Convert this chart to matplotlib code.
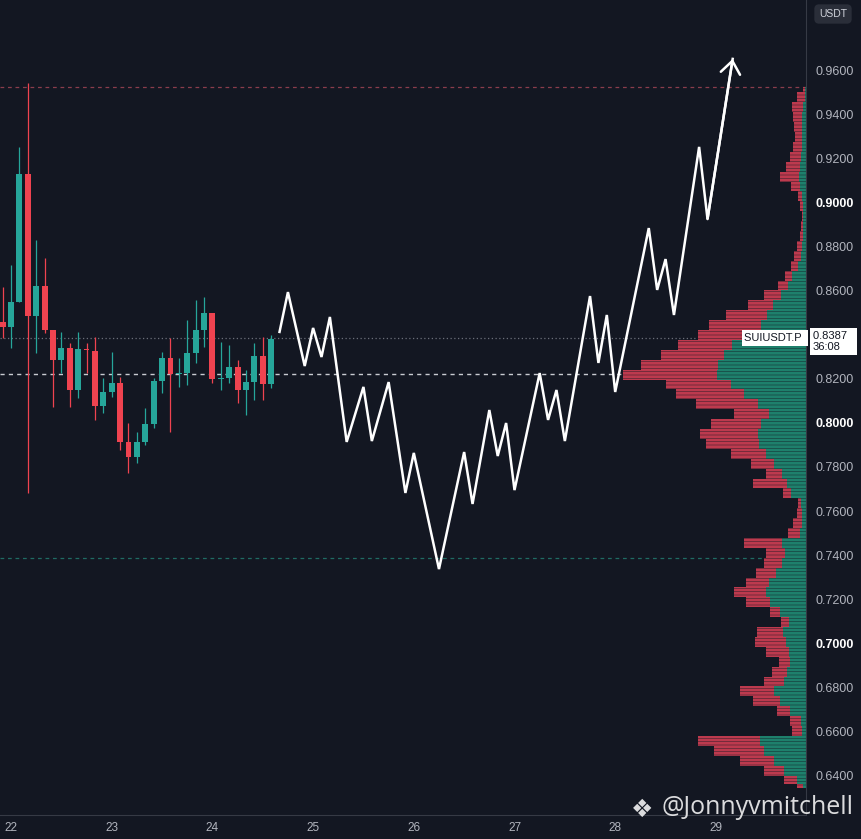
import matplotlib
matplotlib.use("Agg")
import matplotlib.pyplot as plt
import matplotlib.transforms as mtransforms
import numpy as np

BG = '#131722'
UP = '#26a69a'
DOWN = '#ef4350'
VP_RED = '#bd3a4e'
VP_GREEN = '#1e806c'

# 2h candles, first one at day 22 minus 2 hours
candle_start = 22 - 2 / 24
candle_step = 2 / 24
c_open = [0.8461, 0.8435, 0.8552, 0.9130, 0.8486, 0.8624, 0.8423, 0.8286, 0.8339,
          0.8150, 0.8335, 0.8329, 0.8077, 0.8142, 0.8183, 0.7915, 0.7847, 0.7915,
          0.7995, 0.8192, 0.8297, 0.8221, 0.8229, 0.8320, 0.8423, 0.8499, 0.8198,
          0.8203, 0.8253, 0.8150, 0.8188, 0.8305, 0.8176]
c_close = [0.8435, 0.8552, 0.9130, 0.8486, 0.8624, 0.8423, 0.8286, 0.8339, 0.8150,
           0.8335, 0.8332, 0.8077, 0.8142, 0.8183, 0.7915, 0.7847, 0.7915, 0.7995,
           0.8192, 0.8297, 0.8221, 0.8226, 0.8320, 0.8423, 0.8499, 0.8198, 0.8203,
           0.8253, 0.8150, 0.8188, 0.8305, 0.8176, 0.8382]
c_high = [0.8620, 0.8718, 0.9256, 0.9545, 0.8832, 0.8748, 0.8423, 0.8415, 0.8362,
          0.8415, 0.8362, 0.8392, 0.8203, 0.8324, 0.8211, 0.7998, 0.7961, 0.8067,
          0.8203, 0.8324, 0.8385, 0.8294, 0.8468, 0.8560, 0.8574, 0.8499, 0.8370,
          0.8355, 0.8286, 0.8241, 0.8362, 0.8392, 0.8400]
c_low = [0.8385, 0.8339, 0.8552, 0.7682, 0.8317, 0.8407, 0.8074, 0.8226, 0.8074,
         0.8112, 0.8226, 0.8014, 0.8044, 0.8120, 0.7877, 0.7771, 0.7817, 0.7900,
         0.7976, 0.8135, 0.7961, 0.8165, 0.8173, 0.8271, 0.8347, 0.8180, 0.8150,
         0.8180, 0.8089, 0.8036, 0.8104, 0.8104, 0.8157]

# projected path (hours after day 22 00:00, price)
path_hours = [64, 66, 70, 72, 74, 76, 80, 84, 86, 90, 94, 96, 102, 108, 110, 114, 116,
              118, 120, 126, 128, 130, 132, 138, 140, 142, 144, 152, 154, 156, 158,
              164, 166, 172]
path_price = [0.8414, 0.8595, 0.8259, 0.8432, 0.8300, 0.8482, 0.7914, 0.8164, 0.7918,
              0.8186, 0.7682, 0.7864, 0.7336, 0.7868, 0.7632, 0.8059, 0.7850, 0.8000,
              0.7695, 0.8227, 0.8014, 0.8150, 0.7918, 0.8577, 0.8273, 0.8491, 0.8141,
              0.8886, 0.8605, 0.8745, 0.8491, 0.9255, 0.8927, 0.9655]

# volume profile
vp_price = [0.9525, 0.9480, 0.9435, 0.9390, 0.9345, 0.9300, 0.9255, 0.9210, 0.9165,
            0.9120, 0.9075, 0.9030, 0.8985, 0.8940, 0.8895, 0.8850, 0.8805, 0.8760,
            0.8715, 0.8670, 0.8625, 0.8580, 0.8535, 0.8490, 0.8445, 0.8400, 0.8355,
            0.8310, 0.8265, 0.8220, 0.8175, 0.8130, 0.8085, 0.8040, 0.7995, 0.7950,
            0.7905, 0.7860, 0.7815, 0.7770, 0.7725, 0.7680, 0.7635, 0.7590, 0.7545,
            0.7500, 0.7455, 0.7410, 0.7365, 0.7320, 0.7275, 0.7230, 0.7185, 0.7140,
            0.7095, 0.7050, 0.7005, 0.6960, 0.6915, 0.6870, 0.6825, 0.6780, 0.6735,
            0.6690, 0.6645, 0.6600, 0.6555, 0.6510, 0.6465, 0.6420, 0.6375, 0.6340]
vp_total = [3, 9, 14, 13, 12, 11, 13, 16, 20, 26, 15, 8, 6, 4, 5, 6, 9, 12, 15, 21,
            28, 42, 58, 80, 97, 108, 128, 145, 165, 183, 140, 130, 110, 72, 95, 106,
            100, 75, 55, 40, 53, 23, 8, 9, 13, 18, 62, 40, 42, 50, 60, 72, 60, 36, 25,
            49, 51, 40, 27, 34, 42, 66, 53, 29, 16, 14, 108, 92, 66, 42, 22, 9]
vp_green = [1, 1, 3, 4, 4, 4, 4, 5, 6, 7, 6, 4, 3, 3, 3, 3, 4, 5, 8, 14, 18, 25, 33,
            39, 45, 58, 74, 82, 88, 89, 75, 62, 48, 37, 45, 48, 47, 40, 32, 24, 19, 15,
            5, 4, 4, 6, 24, 21, 24, 30, 37, 40, 36, 26, 17, 23, 20, 17, 16, 19, 22, 32,
            26, 16, 5, 4, 46, 42, 32, 22, 9, 3]

# 0.8400 sits under the last-price label, so it is not shown
y_ticks = [0.64, 0.66, 0.68, 0.70, 0.72, 0.74, 0.76, 0.78, 0.80, 0.82, 0.86,
           0.88, 0.90, 0.92, 0.94, 0.96]
x_days = [22, 23, 24, 25, 26, 27, 28, 29]

last_price = 0.8387
poc_price = 0.8223
top_level = 0.9527
low_level = 0.7386

plt.rcParams['font.family'] = ['Liberation Sans', 'DejaVu Sans']
plt.rcParams['hatch.linewidth'] = 0.3

fig = plt.figure(figsize=(8.62, 8.39), dpi=100, facecolor=BG)
ax = fig.add_axes([0, 24 / 839, 806 / 862, 815 / 839])
ax2 = ax.twiny()
ax.set_zorder(ax2.get_zorder() + 1)
ax.patch.set_visible(False)
ax2.set_facecolor(BG)

ax.set_xlim(21.8908, 29.8947)
ax.set_ylim(0.62182, 0.99227)
ax2.set_xlim(806, 0)

# horizontal levels (under the profile)
ax2.axhline(top_level, color='#8a3d4c', lw=0.9, ls=(0, (3, 3)), zorder=1)
ax2.axhline(last_price, color='#6b6f7a', lw=0.9, ls=(0, (1, 2)), zorder=1)
ax2.axhline(poc_price, color='#c9cbd1', lw=1.0, ls=(0, (3, 3)), zorder=1)
ax2.axhline(low_level, color='#1f6b63', lw=0.9, ls=(0, (3, 3)), zorder=1)

# volume profile
ax2.fill_betweenx(vp_price, vp_total, 0, step='mid', facecolor=VP_RED,
                  edgecolor=BG, lw=0, hatch='-----', zorder=2)
ax2.fill_betweenx(vp_price, vp_green, 0, step='mid', facecolor=VP_GREEN,
                  edgecolor=BG, lw=0, hatch='-----', zorder=3)
ax2.set_axis_off()

# candles
body_w = 0.7 * candle_step
for i in range(len(c_open)):
    t = candle_start + i * candle_step
    o, c, h, l = c_open[i], c_close[i], c_high[i], c_low[i]
    col = UP if c >= o else DOWN
    ax.vlines(t, l, h, color=col, lw=0.9, zorder=3)
    ax.bar(t, max(abs(c - o), 0.0004), bottom=min(o, c), width=body_w, color=col,
           zorder=4)

# projected path with arrow
path_t = [22 + h / 24 for h in path_hours]
ax.plot(path_t, path_price, color='white', lw=1.8, solid_joinstyle='miter', zorder=5)
ax.annotate('', xy=(path_t[-1], path_price[-1]), xytext=(path_t[-2], path_price[-2]),
            arrowprops=dict(arrowstyle='->,head_length=0.45,head_width=0.35',
                            color='white', lw=1.8, shrinkA=0, shrinkB=0,
                            mutation_scale=20), zorder=6)

# axes styling
for s in ['top', 'left']:
    ax.spines[s].set_visible(False)
ax.spines['right'].set_color('#363a45')
ax.spines['bottom'].set_color('#363a45')
ax.yaxis.tick_right()
ax.set_yticks(y_ticks)
ax.set_yticklabels(['%.4f' % v for v in y_ticks])
ax.tick_params(axis='y', length=0, pad=7, labelsize=9, colors='#b2b5be')
for lab, v in zip(ax.get_yticklabels(), y_ticks):
    if abs(v * 10 - round(v * 10)) < 1e-6:
        lab.set_color('white')
        lab.set_fontweight('bold')
ax.set_xticks(x_days)
ax.set_xticklabels([str(d) for d in x_days])
ax.tick_params(axis='x', length=0, pad=5, labelsize=8.5, colors='#b2b5be')

# price labels
trans = mtransforms.blended_transform_factory(ax.transAxes, ax.transData)
ax.text(0.9985, last_price, 'SUIUSDT.P ', transform=trans, ha='right', va='center',
        fontsize=8, color='#131722', zorder=10,
        bbox=dict(boxstyle='square,pad=0.25', fc='white', ec='none'))
ax.annotate('0.8387  \n36:08', xy=(1.0, last_price), xycoords=trans,
            xytext=(5, 5), textcoords='offset points', ha='left', va='top',
            fontsize=8, color='#131722', linespacing=1.15, annotation_clip=False,
            bbox=dict(boxstyle='square,pad=0.3', fc='white', ec='none'))

fig.text(833 / 862, 1 - 14 / 839, 'USDT', ha='center', va='center', fontsize=7.5,
         color='#d1d4dc', bbox=dict(boxstyle='round,pad=0.45', fc='#2a2e39', ec='none'))

# watermark
fig.text(642 / 862, 1 - 810 / 839, '\u2756', ha='center', va='center', fontsize=18,
         color='white', alpha=0.85, family='DejaVu Sans')
fig.text(662 / 862, 1 - 808 / 839, '@Jonnyvmitchell', ha='left', va='center',
         fontsize=18, color='white', alpha=0.85, family='Open Sans')

fig.savefig('out.png', dpi=100, facecolor=BG)
